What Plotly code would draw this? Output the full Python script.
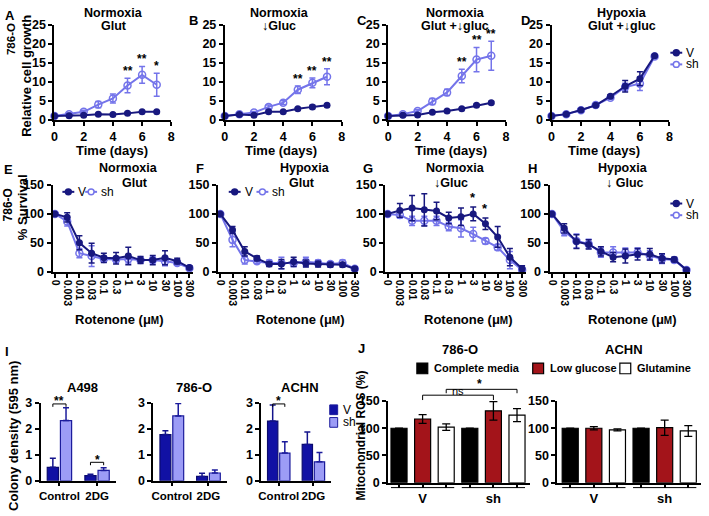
import plotly.graph_objects as go

W, H = 709, 516
DARK = "#18187f"
LIGHT = "#7474ea"
BAR_V = "#1111a4"
BAR_SH = "#9c9cf6"
RED = "#a3141a"
FONT = "Liberation Sans, Arial, sans-serif"

# ---- A-D: relative cell growth (786-O) ----
days = [0, 1, 2, 3, 4, 5, 6, 7]

A_v = [1.0, 1.1, 1.2, 1.5, 1.4, 1.7, 2.1, 2.1]
A_v_err = [0.1, 0.1, 0.1, 0.15, 0.15, 0.2, 0.2, 0.2]
A_sh = [1.0, 1.5, 2.1, 4.0, 5.6, 9.0, 11.8, 9.2]
A_sh_err = [0.15, 0.3, 0.4, 0.8, 1.2, 1.9, 2.2, 3.0]

B_v = [1.0, 1.4, 1.2, 2.1, 2.1, 2.9, 3.4, 3.8]
B_v_err = [0.1, 0.15, 0.15, 0.2, 0.2, 0.3, 0.4, 0.3]
B_sh = [1.0, 1.5, 1.9, 3.4, 4.5, 7.9, 9.7, 11.3]
B_sh_err = [0.1, 0.2, 0.3, 0.5, 0.5, 1.0, 1.3, 2.1]

C_v = [1.0, 1.2, 1.3, 2.0, 2.3, 2.9, 3.8, 4.5]
C_v_err = [0.1, 0.1, 0.1, 0.15, 0.2, 0.2, 0.3, 0.3]
C_sh = [1.0, 1.5, 2.3, 4.8, 7.2, 11.5, 15.8, 16.8]
C_sh_err = [0.1, 0.3, 0.4, 0.8, 0.8, 1.8, 3.2, 3.8]

D_v = [1.0, 1.5, 2.6, 3.8, 6.2, 8.8, 10.8, 16.8]
D_v_err = [0.1, 0.2, 0.2, 0.3, 0.4, 1.5, 1.8, 0.3]
D_sh = [1.0, 1.5, 2.5, 3.9, 5.8, 8.6, 9.5, 16.6]
D_sh_err = [0.1, 0.2, 0.2, 0.3, 0.4, 1.0, 1.8, 0.3]

# ---- E-H: rotenone survival (786-O) ----
rot_labels = ["0", "0.003", "0.01", "0.03", "0.1", "0.3", "1", "3", "10", "30", "100", "300"]

E_v = [100, 94, 50, 32, 24, 23, 27, 20, 20, 24, 18, 7]
E_v_err = [2, 8, 12, 17, 8, 10, 15, 6, 8, 12, 5, 3]
E_sh = [100, 87, 32, 27, 22, 21, 22, 20, 20, 18, 15, 6]
E_sh_err = [2, 8, 8, 18, 5, 5, 7, 5, 5, 8, 4, 3]

F_v = [100, 72, 35, 23, 13, 13, 17, 14, 13, 12, 12, 5]
F_v_err = [2, 6, 8, 4, 4, 8, 8, 6, 5, 4, 4, 3]
F_sh = [100, 55, 20, 18, 15, 15, 15, 17, 15, 13, 15, 5]
F_sh_err = [2, 12, 7, 4, 5, 10, 6, 8, 5, 4, 5, 3]

G_v = [100, 106, 110, 107, 105, 93, 95, 100, 83, 60, 25, 5]
G_v_err = [2, 12, 22, 28, 15, 10, 15, 12, 10, 18, 15, 5]
G_sh = [100, 98, 88, 88, 88, 78, 75, 65, 53, 42, 20, 3]
G_sh_err = [2, 5, 8, 8, 8, 7, 15, 12, 5, 5, 15, 3]

H_v = [100, 75, 52, 47, 35, 25, 27, 30, 30, 23, 21, 3]
H_v_err = [2, 8, 12, 8, 8, 8, 12, 10, 10, 8, 4, 2]
H_sh = [100, 70, 53, 48, 33, 33, 33, 33, 28, 22, 20, 3]
H_sh_err = [2, 8, 12, 8, 8, 10, 8, 8, 8, 8, 4, 2]

# ---- I: colony density ----
treatments = ["Control", "2DG"]
A498_v, A498_v_err = [0.52, 0.20], [0.35, 0.05]
A498_sh, A498_sh_err = [2.32, 0.40], [0.50, 0.10]
O786_v, O786_v_err = [1.78, 0.17], [0.15, 0.12]
O786_sh, O786_sh_err = [2.50, 0.30], [0.48, 0.12]
ACHN_v, ACHN_v_err = [2.30, 1.40], [0.62, 0.48]
ACHN_sh, ACHN_sh_err = [1.07, 0.73], [0.43, 0.36]

# ---- J: mitochondrial ROS ----
media = ["Complete media", "Low glucose", "Glutamine"]
J786_v, J786_v_err = [100, 117, 102], [0, 8, 6]
J786_sh, J786_sh_err = [100, 132, 124], [0, 17, 12]
JACHN_v, JACHN_v_err = [100, 100, 97], [0, 3, 2]
JACHN_sh, JACHN_sh_err = [100, 101, 95], [0, 14, 10]

fig = go.Figure()
layout = {}
annotations = []
shapes = []


def fx(x):
    return x / W


def fy(y):
    return 1 - y / H


def axes(n, x0, x1, y0, y1, xopt, yopt):
    s = "" if n == 1 else str(n)
    base = dict(showline=True, linecolor="black", linewidth=2, ticks="outside", ticklen=4,
                tickwidth=2, tickcolor="black", showgrid=False, zeroline=False,
                tickfont=dict(family=FONT, size=12.5, color="black", weight="bold"))
    layout["xaxis" + s] = dict(base, domain=[fx(x0), fx(x1)], anchor="y" + s, **xopt)
    layout["yaxis" + s] = dict(base, domain=[fy(y1), fy(y0)], anchor="x" + s, **yopt)
    return "x" + s, "y" + s


def txt(x, y, s, size=12.5, bold=True, angle=0, xanchor="center", yanchor="middle"):
    annotations.append(dict(x=fx(x), y=fy(y), xref="paper", yref="paper", text=s, showarrow=False,
                            textangle=angle, xanchor=xanchor, yanchor=yanchor,
                            font=dict(family=FONT, size=size, color="black",
                                      weight="bold" if bold else "normal")))


def line_key(x, y, color, filled, label):
    shapes.append(dict(type="line", xref="paper", yref="paper", x0=fx(x - 6), x1=fx(x + 6),
                       y0=fy(y), y1=fy(y), line=dict(color=color, width=2)))
    shapes.append(dict(type="circle", xref="paper", yref="paper", x0=fx(x - 3), x1=fx(x + 3),
                       y0=fy(y + 3), y1=fy(y - 3), fillcolor=color if filled else "white",
                       line=dict(color=color, width=1.5)))
    txt(x + 8, y, label, size=12, bold=False, xanchor="left")


def pair(xr, yr, xs, v, ve, sh, she):
    fig.add_trace(go.Scatter(x=xs, y=sh, xaxis=xr, yaxis=yr, mode="lines+markers", cliponaxis=False,
                             line=dict(color=LIGHT, width=2),
                             marker=dict(symbol="circle-open", size=7, color=LIGHT, line=dict(width=1.5)),
                             error_y=dict(type="data", array=she, color=LIGHT, thickness=1.5, width=3)))
    fig.add_trace(go.Scatter(x=xs, y=v, xaxis=xr, yaxis=yr, mode="lines+markers", cliponaxis=False,
                             line=dict(color=DARK, width=2),
                             marker=dict(symbol="circle", size=7, color=DARK),
                             error_y=dict(type="data", array=ve, color=DARK, thickness=1.5, width=3)))


# ---- top row ----
growth = [
    ("A", A_v, A_v_err, A_sh, A_sh_err, 52, 170, "Normoxia", "Glut", 112, {5: "**", 6: "**", 7: "*"}, 110, (7, 9)),
    ("B", B_v, B_v_err, B_sh, B_sh_err, 224, 342, "Normoxia", "↓Gluc", 279, {5: "**", 6: "**", 7: "**"}, 281, (192, 14)),
    ("C", C_v, C_v_err, C_sh, C_sh_err, 389, 508, "Normoxia", "Glut +↓gluc", 457, {5: "**", 6: "**", 7: "**"}, 452, (363, 14)),
    ("D", D_v, D_v_err, D_sh, D_sh_err, 554, 673, "Hypoxia", "Glut +↓gluc", 625, {}, 607, (528, 14)),
]
n = 1
for letter, v, ve, sh, she, x0, x1, t1, t2, tx, stars, xt, lp in growth:
    xr, yr = axes(n, x0, x1, 18, 116,
                  dict(range=[0, 8], tickvals=[0, 2, 4, 6, 8]),
                  dict(range=[0, 25], tickvals=[0, 5, 10, 15, 20, 25]))
    pair(xr, yr, days, v, ve, sh, she)
    for d, s in stars.items():
        annotations.append(dict(x=d, y=sh[d] + she[d], xref=xr, yref=yr, text=s, showarrow=False,
                                yanchor="bottom", yshift=-2,
                                font=dict(family=FONT, size=12, color="black", weight="bold")))
    txt(tx, 6, t1)
    txt(tx, 20, t2)
    txt(xt, 147, "Time (days)", size=13)
    txt(lp[0], lp[1], letter, size=13)
    n += 1

txt(8, 33, "786-O", size=11.5, angle=-90)
txt(23, 71, "Relative cell growth", size=13, angle=-90)
line_key(680, 47, DARK, True, "V")
line_key(680, 59, LIGHT, False, "sh")

# ---- middle row ----
rot_x = list(range(len(rot_labels)))
survival = [
    ("E", E_v, E_v_err, E_sh, E_sh_err, 50, 192, "Normoxia", "Glut", 127, 133, 118, (6, 167)),
    ("F", F_v, F_v_err, F_sh, F_sh_err, 217, 359, "Hypoxia", "Glut", 305, 302, 300, (199, 166)),
    ("G", G_v, G_v_err, G_sh, G_sh_err, 386, 528, "Normoxia", "↓Gluc", 457, 452, 470, (369, 166)),
    ("H", H_v, H_v_err, H_sh, H_sh_err, 552, 694, "Hypoxia", "↓ Gluc", 626, 628, 636, (535, 166)),
]
for letter, v, ve, sh, she, x0, x1, t1, t2, tx1, tx2, xt, lp in survival:
    xr, yr = axes(n, x0, x1, 183, 272,
                  dict(range=[-0.2, 11.3], tickvals=rot_x, ticktext=rot_labels, tickangle=90,
                       tickfont=dict(family=FONT, size=10.5, color="black", weight="bold")),
                  dict(range=[0, 150], tickvals=[0, 50, 100, 150]))
    pair(xr, yr, rot_x, v, ve, sh, she)
    txt(tx1, 166, t1)
    txt(tx2, 181, t2)
    txt(xt, 321, "Rotenone (μ<span style='font-size:10px'>M</span>)", size=13)
    txt(lp[0], lp[1], letter, size=13)
    if letter == "G":
        for i in (7, 8):
            annotations.append(dict(x=i, y=v[i] + ve[i], xref=xr, yref=yr, text="*", showarrow=False,
                                    yanchor="bottom", yshift=0,
                                    font=dict(family=FONT, size=13, color="black", weight="bold")))
    n += 1

txt(6, 203, "786-O", size=12, angle=-90)
txt(20, 206, "% Survival", size=13, angle=-90)
line_key(66, 190, DARK, True, "V")
line_key(89, 190, LIGHT, False, "sh")
line_key(234, 190, DARK, True, "V")
line_key(262, 190, LIGHT, False, "sh")
line_key(680, 202, DARK, True, "V")
line_key(680, 214, LIGHT, False, "sh")

# ---- I: colony density ----
colony = [
    ("A498", A498_v, A498_v_err, A498_sh, A498_sh_err, 38, 114),
    ("786-O", O786_v, O786_v_err, O786_sh, O786_sh_err, 152, 226),
    ("ACHN", ACHN_v, ACHN_v_err, ACHN_sh, ACHN_sh_err, 261, 331),
]
I_axes = {}
for name, v, ve, sh, she, x0, x1 in colony:
    xr, yr = axes(n, x0, x1, 407, 487,
                  dict(range=[-0.5, 1.5], tickvals=[0, 1], ticktext=treatments, tickangle=0, ticklen=3,
                       tickfont=dict(family=FONT, size=11.5, color="black", weight="bold")),
                  dict(range=[0, 3], tickvals=[0, 1, 2, 3]))
    I_axes[name] = xr
    fig.add_trace(go.Bar(x=[0, 1], y=v, xaxis=xr, yaxis=yr, marker=dict(color=BAR_V, line=dict(color="#0a0a6e", width=1.2)),
                         error_y=dict(type="data", array=ve, arrayminus=[0, 0], symmetric=False,
                                      color="#14148c", thickness=1.5, width=3)))
    fig.add_trace(go.Bar(x=[0, 1], y=sh, xaxis=xr, yaxis=yr, marker=dict(color=BAR_SH, line=dict(color="#1c1c9c", width=1.2)),
                         error_y=dict(type="data", array=she, arrayminus=[0, 0], symmetric=False,
                                      color="#1c1c9c", thickness=1.5, width=3)))
    txt((x0 + x1) / 2 + 4, 391, name, size=13)
    n += 1


def bracket(xr, xa, xb, ytop, ydrop, label, ylab, size=12, bold=True, xlab=None):
    for a, b, c, d in ((xa, ytop, xb, ytop), (xa, ytop, xa, ydrop), (xb, ytop, xb, ydrop)):
        shapes.append(dict(type="line", xref=xr, yref="paper", x0=a, x1=c, y0=fy(b), y1=fy(d),
                           line=dict(color="black", width=1)))
    annotations.append(dict(x=(xa + xb) / 2 if xlab is None else xlab, y=fy(ylab), xref=xr, yref="paper",
                            text=label, showarrow=False, yanchor="middle",
                            font=dict(family=FONT, size=size, color="black",
                                      weight="bold" if bold else "normal")))


bracket(I_axes["A498"], -0.175, 0.175, 408, 411, "**", 405)
bracket(I_axes["A498"], 0.825, 1.175, 468, 471, "*", 466)
bracket(I_axes["ACHN"], -0.175, 0.175, 408, 411, "*", 405)

txt(10, 441, "Colony density (595 nm)", size=13, angle=-90)
txt(4, 354, "I", size=13)
for y, c, lab in ((414, BAR_V, "V"), (427, BAR_SH, "sh")):
    shapes.append(dict(type="rect", xref="paper", yref="paper", x0=fx(330), x1=fx(338), y0=fy(y + 5), y1=fy(y - 5),
                       fillcolor=c, line=dict(color="#1c1c9c", width=1)))
    txt(341, y, lab, size=12, bold=False, xanchor="left")

# ---- J: mitochondrial ROS ----
med_fill = ["black", RED, "white"]
ros = [
    ("786-O", J786_v, J786_v_err, J786_sh, J786_sh_err, 389, 532, -0.46),
    ("ACHN", JACHN_v, JACHN_v_err, JACHN_sh, JACHN_sh_err, 560, 705, -0.54),
]
J_axes = {}
for name, v, ve, sh, she, x0, x1, r0 in ros:
    xr, yr = axes(n, x0, x1, 405, 489,
                  dict(range=[r0, 5.54], tickvals=[0, 1, 2, 3, 4, 5], ticktext=["", "V", "", "", "sh", ""],
                       tickangle=0, ticklen=3, tickwidth=1.5,
                       tickfont=dict(family=FONT, size=13, color="black", weight="bold")),
                  dict(range=[0, 150], tickvals=[0, 50, 100, 150]))
    J_axes[name] = xr
    for m in range(3):
        fig.add_trace(go.Bar(x=[m, m + 3], y=[v[m], sh[m]], xaxis=xr, yaxis=yr, width=0.68, offset=-0.34,
                             marker=dict(color=med_fill[m], line=dict(color="black", width=1.2)),
                             error_y=dict(type="data", array=[ve[m], she[m]], color="black",
                                          thickness=1.3, width=4)))
    for a, b in ((-0.34, 2.34), (2.66, 5.34)):
        shapes.append(dict(type="line", xref=xr, yref="paper", x0=a, x1=b, y0=fy(494), y1=fy(494),
                           line=dict(color="black", width=1)))
    n += 1

txt(462, 352, "786-O", size=13)
txt(627, 352, "ACHN", size=13)
bracket(J_axes["786-O"], 2, 5, 393, 397, "*", 387, xlab=3.4)
bracket(J_axes["786-O"], 1, 4, 399, 404, "ns", 395, size=11, bold=False, xlab=2.5)
txt(362, 440, "Mitochondrial ROS (%)", size=12, angle=-90)
txt(362, 351, "J", size=13)
for x, c, lab in ((418, "black", "Complete media"), (535, RED, "Low glucose"), (623, "white", "Glutamine")):
    shapes.append(dict(type="rect", xref="paper", yref="paper", x0=fx(x), x1=fx(x + 11), y0=fy(377), y1=fy(366),
                       fillcolor=c, line=dict(color="black", width=1.2)))
    txt(x + 15, 371, lab, size=11, xanchor="left")

fig.update_layout(
    width=W, height=H,
    margin=dict(l=0, r=0, t=0, b=0),
    paper_bgcolor="white", plot_bgcolor="white",
    showlegend=False,
    barmode="group", bargap=0.3, bargroupgap=0.15,
    annotations=annotations, shapes=shapes,
    font=dict(family=FONT, color="black"),
    **layout,
)

# drop the default page margin so the figure sits at the window's top-left corner
fig.write_html("out.html", config={"displayModeBar": False},
               post_script="document.body.style.margin='0';")
